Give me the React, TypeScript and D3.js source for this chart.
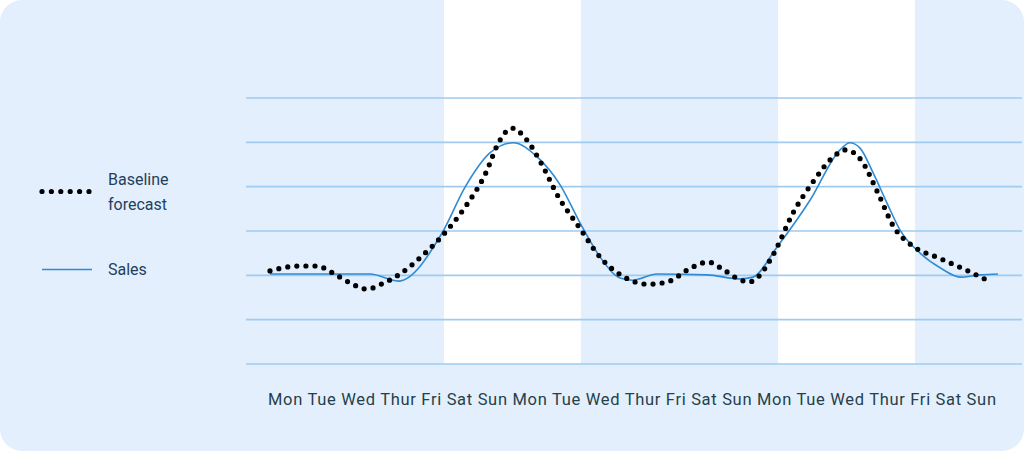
import * as d3 from 'd3'

// day labels along the bottom, three weeks
const dayLabels = [
  'Mon', 'Tue', 'Wed', 'Thur', 'Fri', 'Sat', 'Sun',
  'Mon', 'Tue', 'Wed', 'Thur', 'Fri', 'Sat', 'Sun',
  'Mon', 'Tue', 'Wed', 'Thur', 'Fri', 'Sat', 'Sun'
]

// [day position, value]
const sales: [number, number][] = [
  [0, 2.03], [1.37, 2.03], [2.75, 2.03], [3.52, 1.87], [4.73, 2.96],
  [5.36, 3.99], [6.04, 4.76], [6.68, 4.99], [7.34, 4.67], [7.97, 4.04],
  [8.52, 3.18], [9.07, 2.41], [9.62, 1.94], [9.97, 1.89], [10.63, 2.03],
  [12.01, 2.01], [12.91, 1.92], [13.27, 1.96], [13.93, 2.64], [14.84, 3.7],
  [15.66, 4.83], [15.93, 4.99], [16.21, 4.87], [16.57, 4.31], [16.95, 3.63],
  [17.31, 3.02], [17.86, 2.5], [18.41, 2.17], [18.96, 1.96], [19.51, 2.01],
  [20, 2.03]
]

const baseline: [number, number][] = [
  [0, 2.1], [0.77, 2.21], [1.29, 2.21], [1.73, 2.05], [2.2, 1.83],
  [2.66, 1.69], [3.13, 1.83], [3.57, 2.03], [4.18, 2.44], [4.73, 2.89],
  [5.36, 3.54], [5.93, 4.31], [6.29, 5.01], [6.65, 5.32], [7.03, 5.08],
  [7.45, 4.53], [7.91, 3.79], [8.49, 3.09], [9.09, 2.39], [9.67, 1.99],
  [10.38, 1.8], [10.91, 1.85], [11.57, 2.17], [12.03, 2.3], [12.47, 2.12],
  [12.94, 1.89], [13.16, 1.85], [13.38, 1.94], [13.82, 2.46], [14.37, 3.41],
  [14.92, 4.11], [15.41, 4.62], [15.82, 4.83], [16.24, 4.6], [16.7, 3.86],
  [17.14, 3.09], [17.66, 2.66], [18.38, 2.39], [19.07, 2.14], [19.75, 1.87]
]

// white bands, in day units
const whiteBands: [number, number][] = [[4.78, 8.54], [13.96, 17.72]]
const gridValues = [0, 1, 2, 3, 4, 5, 6]

const W = 1024
const H = 452
const bg = '#e3effd'
const gridColor = '#9fcbf1'
const salesColor = '#2f8bd4'
const textColor = '#243f5c'

export default function App() {
  const x = d3.scaleLinear().domain([0, 20]).range([270, 998])
  const y = d3.scaleLinear().domain([0, 6]).range([364, 98])

  const line = d3
    .line<[number, number]>()
    .x(d => x(d[0]))
    .y(d => y(d[1]))
    .curve(d3.curveMonotoneX)

  const gridLeft = 246
  const gridRight = 1022

  return (
    <svg
      width={W}
      height={H}
      style={{ position: 'absolute', left: 0, top: 0 }}
      fontFamily="Roboto, 'Noto Sans', sans-serif"
    >
      <rect x={0} y={0} width={W} height={H} fill="#fff" />
      <rect x={0} y={0} width={W} height={H - 1} rx={22} fill={bg} />
      {whiteBands.map(([a, b], i) => (
        <rect key={i} x={x(a)} y={0} width={x(b) - x(a)} height={y(0)} fill="#fff" />
      ))}
      {gridValues.map(v => (
        <line
          key={v}
          x1={gridLeft}
          x2={gridRight}
          y1={y(v)}
          y2={y(v)}
          stroke={gridColor}
          strokeWidth={1.6}
        />
      ))}
      <path d={line(sales) ?? ''} fill="none" stroke={salesColor} strokeWidth={1.6} />
      <path
        d={line(baseline) ?? ''}
        fill="none"
        stroke="#000"
        strokeWidth={5.2}
        strokeLinecap="round"
        strokeDasharray="0 9.1"
      />

      {/* legend */}
      <line
        x1={42}
        x2={90}
        y1={191.5}
        y2={191.5}
        stroke="#000"
        strokeWidth={5.2}
        strokeLinecap="round"
        strokeDasharray="0 9.4"
      />
      <text x={108} y={185} fontSize={16} fill={textColor}>Baseline</text>
      <text x={108} y={210} fontSize={16} fill={textColor}>forecast</text>
      <line x1={42} x2={92} y1={269.5} y2={269.5} stroke={salesColor} strokeWidth={1.6} />
      <text x={108} y={275} fontSize={16} fill={textColor}>Sales</text>

      {/* day labels */}
      <text
        x={268}
        y={405}
        fontSize={16.5}
        fill="#263f49"
        textLength={728}
        lengthAdjust="spacing"
      >
        {dayLabels.join(' ')}
      </text>
    </svg>
  )
}
